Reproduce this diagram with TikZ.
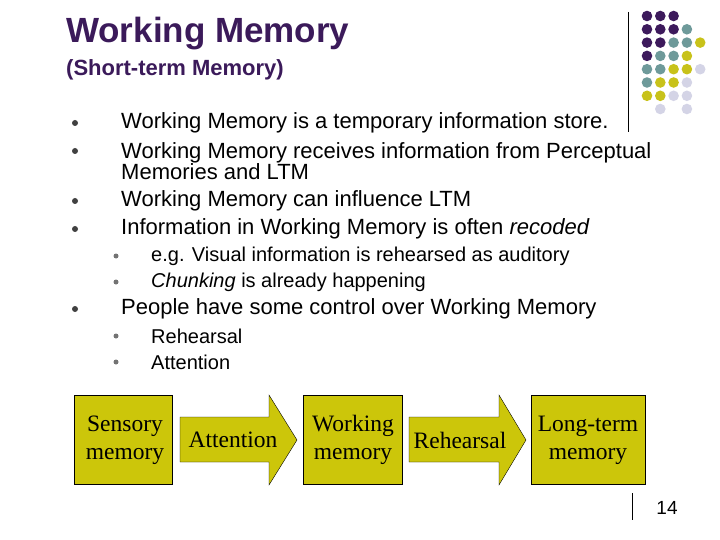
\documentclass[tikz,border=0pt]{standalone}
\usepackage{fontspec}
\setmainfont{Liberation Sans}
\newfontfamily\serifbox{Liberation Serif}
\begin{document}
\begin{tikzpicture}[x=1pt,y=-1pt,
  bx/.style={draw=black,fill=boxy},
  lbl/.style={font=\serifbox\fontsize{23.5}{28}\selectfont,align=center,inner sep=0},
  bul/.style={circle,fill=black!75,inner sep=0,minimum size=6pt},
  sbul/.style={circle,fill=black!55,inner sep=0,minimum size=5pt},
  t1/.style={anchor=west,inner sep=0,font=\fontsize{22}{21}\selectfont,align=left},
  t2/.style={anchor=west,inner sep=0,font=\fontsize{20}{21}\selectfont},
  dt/.style={radius=5.3}]
\definecolor{boxy}{HTML}{CCC60A}
\definecolor{tpur}{HTML}{3B1A5A}
\definecolor{P}{HTML}{3D1A5C}\definecolor{T}{HTML}{6E9A9A}
\definecolor{Y}{HTML}{C8C21A}\definecolor{L}{HTML}{D4D4E6}
\useasboundingbox (0,0) rectangle (720,540);
\node[anchor=west,inner sep=0,text=tpur,font=\bfseries\fontsize{35}{37}\selectfont] (title) at (66,34) {Working Memory};
\node[anchor=west,inner sep=0,text=tpur,font=\bfseries\fontsize{22}{24}\selectfont] (sub) at (66,70) {(Short-term Memory)};
\draw[line width=0.9pt] (628,12) coordinate (v1) -- (628,132) coordinate (v2);
\draw[line width=0.9pt] (632,493) coordinate (v3) -- (632,520) coordinate (v4);
\node[inner sep=0,font=\fontsize{19}{21}\selectfont] (pg) at (667,508) {14};
% dots
\foreach \r/\row in {0/{P,P,P},1/{P,P,P,T},2/{P,P,T,T,Y},3/{P,T,T,Y},4/{T,T,Y,Y,L},5/{T,Y,Y,L},6/{Y,Y,L,L}}{
  \foreach \c [count=\i from 0] in \row {\fill[\c] (647+13.3*\i,16+13.3*\r) circle[dt];}}
\fill[L] (660.3,109) circle[dt]; \fill[L] (686.9,109) circle[dt];
% bullets
\foreach \y in {123,151,201,229,309} \node[bul] at (75,\y) {};
\foreach \y in {256,282,336,362} \node[sbul] at (116,\y) {};
\node[t1] (b1) at (121,123) {Working Memory is a temporary information store.};
\node[t1] (b2) at (121,161.5) {Working Memory receives information from Perceptual\\Memories and LTM};
\node[t1] (b3) at (121,201) {Working Memory can influence LTM};
\node[t1] (b4) at (121,229) {Information in Working Memory is often \textit{recoded}};
\node[t2] (s1) at (151,256) {e.g. Visual information is rehearsed as auditory};
\node[t2] (s2) at (151,282) {\textit{Chunking} is already happening};
\node[t1] (b5) at (121,309) {People have some control over Working Memory};
\node[t2] (s3) at (151,336) {Rehearsal};
\node[t2] (s4) at (151,362) {Attention};
% flow
\draw[bx] (74,395) rectangle (172,484);
\node[lbl] (sm) at (125,440) {Sensory\\memory};
\draw[bx] (180,417) -- (269,417) -- (269,395) -- (297,440) -- (269,485) -- (269,462) -- (180,462) -- cycle;
\node[lbl] (att) at (233,440) {Attention};
\draw[bx] (303,395) rectangle (402,484);
\node[lbl] (wm) at (353,440) {Working\\memory};
\draw[bx] (409,417) -- (499,417) -- (499,395) -- (526,440) -- (499,485) -- (499,462) -- (409,462) -- cycle;
\node[lbl] (reh) at (460,440) {Rehearsal};
\draw[bx] (531,395) rectangle (645,484);
\node[lbl] (lt) at (588,440) {Long-term\\memory};
\end{tikzpicture}
\end{document}
